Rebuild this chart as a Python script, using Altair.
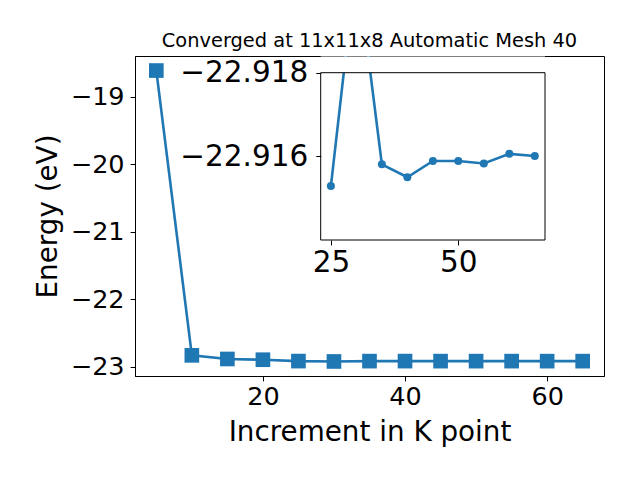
import altair as alt
import pandas as pd

# ---- data ----
kpoints = [5, 10, 15, 20, 25, 30, 35, 40, 45, 50, 55, 60, 65]
energies = [-18.61, -22.83, -22.884, -22.895, -22.91529, -22.92065, -22.91581,
            -22.91550, -22.91589, -22.91589, -22.91583, -22.91606, -22.91601]
inset_kpoints = kpoints[4:]
inset_energies = energies[4:]

main_x_ticks = [20, 40, 60]
main_y_ticks = [-23, -22, -21, -20, -19]
inset_x_ticks = [25, 50]
inset_y_ticks = [-22.918, -22.916]

title_text = "Converged at 11x11x8 Automatic Mesh 40"
x_title = "Increment in K point"
y_title = "Energy (eV)"

BLUE = "#1f77b4"
FONT = "DejaVu Sans"

main_df = pd.DataFrame({"k": kpoints, "E": energies})
inset_df = pd.DataFrame({"k": inset_kpoints, "E": inset_energies})
one = pd.DataFrame({"a": [0]})

W, H = 469, 320

main_xs = alt.Scale(domain=[2, 68], nice=False, zero=False)
main_ys = alt.Scale(domain=[-23.1362, -18.3945], nice=False, zero=False)
inset_xs = alt.Scale(domain=[23, 67], range=[185.7, 410], nice=False, zero=False)
inset_ys = alt.Scale(domain=[-22.918, -22.914], range=[16.7, 184], nice=False, zero=False)

main_x_enc = alt.X("k:Q", scale=main_xs,
                   axis=alt.Axis(values=main_x_ticks, format="d", title=x_title,
                                 labelFontSize=25.5, titleFontSize=27.8,
                                 labelPadding=4, titlePadding=8))
main_y_enc = alt.Y("E:Q", scale=main_ys,
                   axis=alt.Axis(values=main_y_ticks, format="d", title=y_title,
                                 labelFontSize=25.5, titleFontSize=27.8,
                                 labelPadding=6, titlePadding=8))

main_line = alt.Chart(main_df).mark_line(color=BLUE, strokeWidth=2.6).encode(
    x=main_x_enc, y=main_y_enc)
main_pts = alt.Chart(main_df).mark_point(shape="square", filled=True, color=BLUE,
                                         size=215, opacity=1).encode(
    x=alt.X("k:Q", scale=main_xs), y=alt.Y("E:Q", scale=main_ys))
main_layer = alt.layer(main_line, main_pts)

inset_x_enc = alt.X("k:Q", scale=inset_xs,
                    axis=alt.Axis(orient="bottom", offset=-136, values=inset_x_ticks,
                                  format="d", title=None, labelFontSize=29.5,
                                  labelPadding=4, domain=False))
inset_y_enc = alt.Y("E:Q", scale=inset_ys,
                    axis=alt.Axis(orient="left", offset=-185.7, values=inset_y_ticks,
                                  format=".3f", title=None, labelFontSize=29.5,
                                  labelPadding=8, domain=False))

mask = alt.Chart(one).mark_rect(color="white").encode(
    x=alt.X(datum=inset_xs.domain[0], scale=inset_xs),
    x2=alt.X2(datum=inset_xs.domain[1]),
    y=alt.Y(datum=inset_ys.domain[0], scale=inset_ys),
    y2=alt.value(0.6),
)
inset_line = alt.Chart(inset_df).mark_line(color=BLUE, strokeWidth=2.6, clip=True).encode(
    x=inset_x_enc, y=inset_y_enc)
inset_pts = alt.Chart(inset_df).mark_circle(color=BLUE, size=64, opacity=1).encode(
    x=alt.X("k:Q", scale=inset_xs), y=alt.Y("E:Q", scale=inset_ys))
inset_frame = alt.Chart(one).mark_rect(filled=False, stroke="black", strokeWidth=1).encode(
    x=alt.X(datum=inset_xs.domain[0], scale=inset_xs),
    x2=alt.X2(datum=inset_xs.domain[1]),
    y=alt.Y(datum=inset_ys.domain[0], scale=inset_ys),
    y2=alt.Y2(datum=inset_ys.domain[1]),
)
inset_layer = alt.layer(inset_line, mask, inset_pts, inset_frame)

chart = alt.layer(main_layer, inset_layer).resolve_scale(
    x="independent", y="independent"
).properties(
    width=W, height=H,
    title=alt.Title(title_text, fontSize=19.4, font=FONT, fontWeight="normal",
                    color="black", anchor="middle", baseline="alphabetic",
                    offset=9, dy=118),
    autosize=alt.AutoSizeParams(type="none"),
    padding={"left": 127, "top": 48, "right": 20, "bottom": 96},
).configure_view(
    stroke="black", strokeWidth=1
).configure_axis(
    grid=False, labelFont=FONT, titleFont=FONT, labelColor="black", titleColor="black",
    titleFontWeight="normal", tickColor="black", tickSize=4.9, tickWidth=1,
    domainColor="black", domainWidth=1,
)

chart.save("out.html", embed_options={"renderer": "svg", "actions": False})
